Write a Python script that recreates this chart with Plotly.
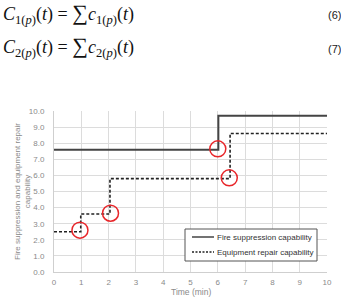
import plotly.graph_objects as go

# Data
fire_x = [0, 6.02, 10]
fire_y = [7.6, 9.7, 9.7]
equip_x = [0, 0.98, 2.05, 6.45, 10]
equip_y = [2.5, 3.6, 5.8, 8.6, 8.6]
circle_x = [0.95, 2.07, 6.0, 6.42]
circle_y = [2.6, 3.65, 7.65, 5.85]
x_ticks = list(range(0, 11))
y_ticks = [i * 1.0 for i in range(0, 11)]
series_names = ["Fire suppression capability", "Equipment repair capability"]

W, H = 341, 297
L, R, T, B = 54, 14, 111, 25

FIRE_LINE = dict(color="#444444", width=2)
EQUIP_LINE = dict(color="#222222", width=1.6, dash="3px,2px")

fig = go.Figure()
fig.add_trace(go.Scatter(x=fire_x, y=fire_y, mode="lines", line_shape="hv",
                         line=FIRE_LINE, name=series_names[0], showlegend=False))
fig.add_trace(go.Scatter(x=equip_x, y=equip_y, mode="lines", line_shape="hv",
                         line=EQUIP_LINE, name=series_names[1], showlegend=False))
fig.add_trace(go.Scatter(x=circle_x, y=circle_y, mode="markers", showlegend=False,
                         marker=dict(symbol="circle-open", size=16,
                                     line=dict(color="#e8262a", width=1.5),
                                     color="#e8262a")))

def px_x(p):
    return (p - L) / (W - L - R)

def px_y(p):
    return (H - B - p) / (H - T - B)

eq_font = dict(family="Liberation Serif", size=18, color="#111111")
eq1 = ("<i>C</i><sub>1(<i>p</i>)</sub>(<i>t</i>) = "
       "<span style='font-size:22px'>∑</span><i>c</i><sub>1(<i>p</i>)</sub>(<i>t</i>)")
eq2 = ("<i>C</i><sub>2(<i>p</i>)</sub>(<i>t</i>) = "
       "<span style='font-size:22px'>∑</span><i>c</i><sub>2(<i>p</i>)</sub>(<i>t</i>)")
for txt, num, yp, yn in [(eq1, "(6)", 13, 15), (eq2, "(7)", 46, 49)]:
    fig.add_annotation(text=txt, xref="paper", yref="paper", x=px_x(1), y=px_y(yp),
                       xanchor="left", yanchor="middle", showarrow=False, font=eq_font)
    fig.add_annotation(text=num, xref="paper", yref="paper", x=px_x(326), y=px_y(yn),
                       xanchor="left", yanchor="middle", showarrow=False,
                       font=dict(family="Liberation Sans", size=11, color="#222222"))

# Custom legend box (layout decoration)
lx0, lx1, ly0, ly1 = 185, 317, 229, 261
fig.add_shape(type="rect", xref="paper", yref="paper",
              x0=px_x(lx0), x1=px_x(lx1), y0=px_y(ly1), y1=px_y(ly0),
              line=dict(color="#555555", width=1), fillcolor="white", layer="above")
for i, (nm, ln) in enumerate(zip(series_names, [FIRE_LINE, EQUIP_LINE])):
    yy = 237 + i * 15
    fig.add_shape(type="line", xref="paper", yref="paper",
                  x0=px_x(192), x1=px_x(214), y0=px_y(yy), y1=px_y(yy),
                  line=dict(color=ln["color"], width=1.5 if i == 0 else 1.3,
                            dash="solid" if i == 0 else "2px,1.5px"),
                  layer="above")
    fig.add_annotation(text=nm, xref="paper", yref="paper", x=px_x(215), y=px_y(yy),
                       xanchor="left", yanchor="middle", showarrow=False,
                       font=dict(family="Liberation Sans", size=8, color="#333333"))

title_font = dict(family="Liberation Sans", size=8.5, color="#8a8a8a")
# Axis titles as annotations for precise placement
fig.add_annotation(text="Time (min)", xref="paper", yref="paper", x=0.5, y=px_y(292),
                   xanchor="center", yanchor="middle", showarrow=False, font=title_font)
fig.add_annotation(text="Fire suppression and equipment repair<br>capability",
                   xref="paper", yref="paper", x=px_x(22.5), y=0.5, textangle=-90,
                   xanchor="center", yanchor="middle", showarrow=False,
                   font=dict(family="Liberation Sans", size=8, color="#8a8a8a"))

axis_common = dict(showgrid=True, gridcolor="#dcdcdc", gridwidth=1, zeroline=False,
                   showline=True, linecolor="#cfcfcf", linewidth=1,
                   tickfont=dict(family="Liberation Sans", size=8, color="#8a8a8a"),
                   ticks="", fixedrange=True, automargin=False)

fig.update_layout(
    width=W, height=H,
    margin=dict(l=L, r=R, t=T, b=B, pad=0, autoexpand=False),
    paper_bgcolor="white", plot_bgcolor="white",
    xaxis=dict(range=[0, 10], tickvals=x_ticks, ticktext=[str(v) for v in x_ticks],
               ticklabelstandoff=2, **axis_common),
    yaxis=dict(range=[0, 10], tickvals=y_ticks, ticktext=[f"{v:.1f}" for v in y_ticks],
               ticklabelstandoff=7, **axis_common),
    showlegend=False,
)

fig.write_html("out.html")
